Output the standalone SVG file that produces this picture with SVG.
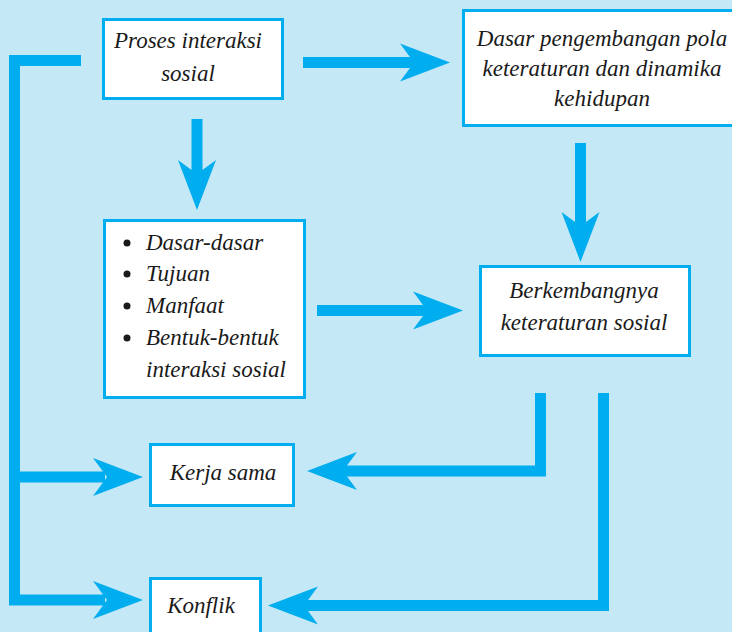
<svg xmlns="http://www.w3.org/2000/svg" xmlns:xlink="http://www.w3.org/1999/xlink" width="732" height="632" viewBox="0 0 732 632">
<style>
.box{fill:#ffffff;stroke:#00aeef;stroke-width:3}
.t{font-family:"Liberation Serif","DejaVu Serif",serif;font-style:italic;font-size:23px;fill:#1a1a1a}
.c{text-anchor:middle}
.shaft{fill:none;stroke:#00aeef;stroke-width:11;stroke-linecap:butt;stroke-linejoin:miter}
.head{fill:#00aeef}
.bullet{fill:#1a1a1a}
</style>
<defs>
<path id="ah" d="M0,0 L-50,-19 L-36,0 L-50,19 Z"/>
</defs>
<rect x="0" y="0" width="732" height="632" fill="#c5e8f7"/>
<g id="connectors">
<polyline class="shaft" points="81,60.5 14.5,60.5 14.5,600 105,600"/>
<polyline class="shaft" points="14.5,477 105,477"/>
<use href="#ah" class="head" transform="translate(143,600)"/>
<use href="#ah" class="head" transform="translate(143,477)"/>
<line class="shaft" x1="303" y1="62.5" x2="415" y2="62.5"/>
<use href="#ah" class="head" transform="translate(450,62.5)"/>
<line class="shaft" x1="197" y1="119" x2="197" y2="176"/>
<use href="#ah" class="head" transform="translate(197,210) rotate(90)"/>
<line class="shaft" x1="580.5" y1="143" x2="580.5" y2="228"/>
<use href="#ah" class="head" transform="translate(580.5,262) rotate(90)"/>
<line class="shaft" x1="317" y1="310.5" x2="428" y2="310.5"/>
<use href="#ah" class="head" transform="translate(463,310.5)"/>
<polyline class="shaft" points="540.5,393 540.5,471 342,471"/>
<use href="#ah" class="head" transform="translate(307,471) rotate(180)"/>
<polyline class="shaft" points="603.5,393 603.5,605.5 303,605.5"/>
<use href="#ah" class="head" transform="translate(268,605.5) rotate(180)"/>
</g>
<g id="proses">
<rect class="box" x="103.5" y="19.5" width="179" height="79"/>
<text class="t c" x="188" y="48">Proses interaksi</text>
<text class="t c" x="188" y="81">sosial</text>
</g>
<g id="dasar-pengembangan">
<rect class="box" x="463.5" y="10.5" width="280" height="115"/>
<text class="t c" x="602" y="46">Dasar pengembangan pola</text>
<text class="t c" x="602" y="76">keteraturan dan dinamika</text>
<text class="t c" x="602" y="106">kehidupan</text>
</g>
<g id="daftar">
<rect class="box" x="104.5" y="220.5" width="200" height="177"/>
<circle class="bullet" cx="127" cy="243" r="3.5"/>
<circle class="bullet" cx="127" cy="274" r="3.5"/>
<circle class="bullet" cx="127" cy="306" r="3.5"/>
<circle class="bullet" cx="127" cy="338" r="3.5"/>
<text class="t" x="146" y="250">Dasar-dasar</text>
<text class="t" x="146" y="281">Tujuan</text>
<text class="t" x="146" y="313">Manfaat</text>
<text class="t" x="146" y="345">Bentuk-bentuk</text>
<text class="t" x="146" y="377">interaksi sosial</text>
</g>
<g id="berkembangnya">
<rect class="box" x="480.5" y="266.5" width="209" height="89"/>
<text class="t c" x="584" y="298">Berkembangnya</text>
<text class="t c" x="584" y="330">keteraturan sosial</text>
</g>
<g id="kerja-sama">
<rect class="box" x="150.5" y="444.5" width="143" height="61"/>
<text class="t c" x="223" y="480">Kerja sama</text>
</g>
<g id="konflik">
<rect class="box" x="150.5" y="578.5" width="110" height="70"/>
<text class="t c" x="201" y="613">Konflik</text>
</g>
</svg>
